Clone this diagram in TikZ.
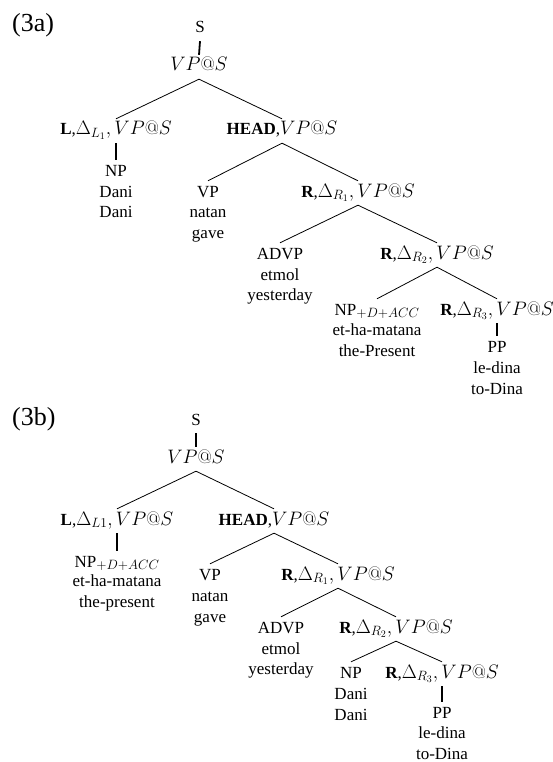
\RequirePackage{fix-cm}
\documentclass[tikz,border=0pt]{standalone}
\usepackage[no-math]{fontspec}
\setmainfont{Liberation Serif}
\DeclareMathSizes{17}{19.5}{13.5}{10}
\newcommand{\myvps}{VP@S}
\begin{document}
\begin{tikzpicture}[x=1pt,y=-1pt,
  font=\fontsize{17}{20.5}\selectfont,
  cat/.style={anchor=base, inner xsep=0pt, inner ysep=4pt, text height=12pt, text depth=4pt},
  word/.style={anchor=base, inner sep=0pt},
  exlabel/.style={anchor=base west, inner sep=0pt, font=\fontsize{26}{30}\selectfont},
  branch/.style={line width=0.8pt},
  unary/.style={line width=1.8pt}]
\useasboundingbox (0,0) rectangle (553,762);

% ---------- (3a) ----------
\node[exlabel] (la) at (12,32) {(3a)};
\node[cat] (aS) at (200,33) {S};
\node[cat] (aTop) at (199,71) {$\myvps$};
\node[cat] (aL) at (116,135) {\textbf{L},$\Delta_{L_1}, \myvps$};
\node[cat] (aH) at (282,135) {\textbf{HEAD},$\myvps$};
\node[cat] (aNP) at (116,176) {NP};
\node[word] (aNPa) at (116,197) {Dani};
\node[word] (aNPb) at (116,217.5) {Dani};
\node[cat] (aVP) at (208,197) {VP};
\node[word] (aVPa) at (208,217.5) {natan};
\node[word] (aVPb) at (208,238) {gave};
\node[cat] (aR1) at (358,197) {\textbf{R},$\Delta_{R_1}, \myvps$};
\node[cat] (aADVP) at (280,259) {ADVP};
\node[word] (aADVPa) at (280,280) {etmol};
\node[word] (aADVPb) at (280,300.5) {yesterday};
\node[cat] (aR2) at (437,259) {\textbf{R},$\Delta_{R_2}, \myvps$};
\node[cat] (aNPacc) at (377,315) {NP$_{+D+ACC}$};
\node[word] (aNPacca) at (377,335.5) {et-ha-matana};
\node[word] (aNPaccb) at (377,356) {the-Present};
\node[cat] (aR3) at (497,315) {\textbf{R},$\Delta_{R_3}, \myvps$};
\node[cat] (aPP) at (497,352) {PP};
\node[word] (aPPa) at (497,373) {le-dina};
\node[word] (aPPb) at (497,394) {to-Dina};

\draw[unary] (aS.south) -- (aTop.north);
\draw[unary] (aL.south) -- (aNP.north);
\draw[unary] (aR3.south) -- (aPP.north);
\draw[branch] (aL.north) -- (aTop.south) -- (aH.north);
\draw[branch] (aVP.north) -- (aH.south) -- (aR1.north);
\draw[branch] (aADVP.north) -- (aR1.south) -- (aR2.north);
\draw[branch] (aNPacc.north) -- (aR2.south) -- (aR3.north);

% ---------- (3b) ----------
\node[exlabel] (lb) at (12,425) {(3b)};
\node[cat] (bS) at (196,425) {S};
\node[cat] (bTop) at (196,463) {$\myvps$};
\node[cat] (bL) at (117,525) {\textbf{L},$\Delta_{L1}, \myvps$};
\node[cat] (bH) at (274,525) {\textbf{HEAD},$\myvps$};
\node[cat] (bNPacc) at (117,567) {NP$_{+D+ACC}$};
\node[word] (bNPacca) at (117,586.5) {et-ha-matana};
\node[word] (bNPaccb) at (117,607) {the-present};
\node[cat] (bVP) at (210,580) {VP};
\node[word] (bVPa) at (210,601.5) {natan};
\node[word] (bVPb) at (210,622) {gave};
\node[cat] (bR1) at (338,580) {\textbf{R},$\Delta_{R_1}, \myvps$};
\node[cat] (bADVP) at (281,633) {ADVP};
\node[word] (bADVPa) at (281,654) {etmol};
\node[word] (bADVPb) at (281,674.5) {yesterday};
\node[cat] (bR2) at (396,633) {\textbf{R},$\Delta_{R_2}, \myvps$};
\node[cat] (bNP) at (351,678) {NP};
\node[word] (bNPa) at (351,699.5) {Dani};
\node[word] (bNPb) at (351,720) {Dani};
\node[cat] (bR3) at (442,678) {\textbf{R},$\Delta_{R_3}, \myvps$};
\node[cat] (bPP) at (442,718) {PP};
\node[word] (bPPa) at (442,738.5) {le-dina};
\node[word] (bPPb) at (442,759) {to-Dina};

\draw[unary] (bS.south) -- (bTop.north);
\draw[unary] (bL.south) -- (bNPacc.north);
\draw[unary] (bR3.south) -- (bPP.north);
\draw[branch] (bL.north) -- (bTop.south) -- (bH.north);
\draw[branch] (bVP.north) -- (bH.south) -- (bR1.north);
\draw[branch] (bADVP.north) -- (bR1.south) -- (bR2.north);
\draw[branch] (bNP.north) -- (bR2.south) -- (bR3.north);
\end{tikzpicture}
\end{document}
